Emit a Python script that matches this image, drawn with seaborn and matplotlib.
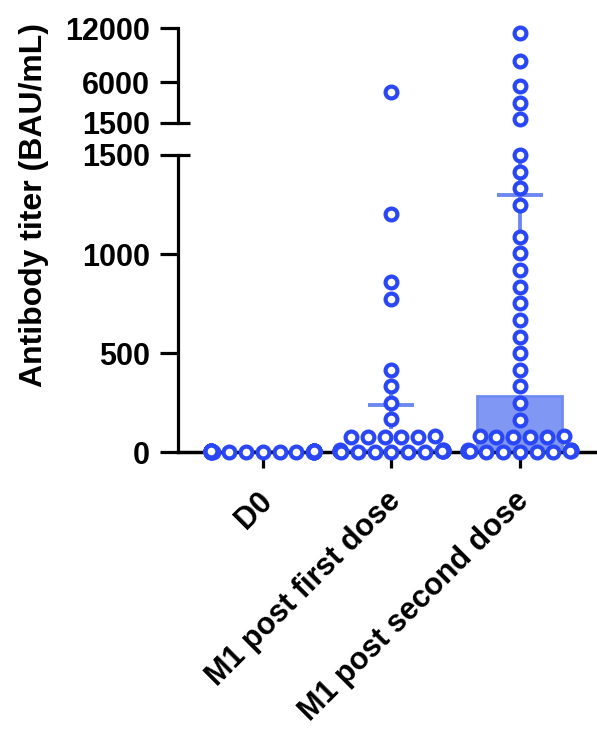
import numpy as np
import pandas as pd
import matplotlib.pyplot as plt
import matplotlib.transforms as mtransforms
from matplotlib.ticker import FixedLocator
import seaborn as sns

sns.set_style('ticks')
plt.rcParams['font.family'] = ['Liberation Sans', 'DejaVu Sans']
plt.rcParams['font.weight'] = 'bold'
for key in ['text.color', 'axes.labelcolor', 'xtick.color', 'ytick.color',
            'axes.edgecolor']:
    plt.rcParams[key] = 'black'

# ------------------------------------------------------------
# Data
# ------------------------------------------------------------
categories = ['D0', 'M1 post first dose', 'M1 post second dose']

d0_titers = [0, 0, 0, 1, 1, 1, 2, 2, 2, 3, 3, 3, 4, 4, 4, 5, 5, 5,
             6, 6, 0, 1, 2, 3, 4, 5, 6, 2, 3, 4]
first_dose_titers = [4900, 1200, 860, 775, 415, 333, 250, 165,
                     80, 78, 77, 76, 75, 74,
                     10, 9, 8, 7, 6, 5, 5, 4, 4, 3, 3, 2, 2, 1, 1, 0, 0]
second_dose_titers = [11400, 8300, 5600, 3750, 1900,
                      1500, 1416, 1332, 1248, 1087, 1003, 919, 835, 751,
                      667, 583, 499, 415, 331, 247, 163,
                      80, 79, 77, 76, 75, 74,
                      12, 10, 8, 7, 6, 5, 4, 3, 2, 1, 1, 0, 0]

# summary marks drawn with the dots
bar_values = [0, 10, 285]
mean_values = [0, 237, 1300]
sem_values = [0, 120, 235]

low_ticks = [0, 500, 1000, 1500]
high_ticks = [1500, 6000, 12000]
break_value = 1500

df = pd.DataFrame({
    'group': (['D0'] * len(d0_titers)
              + ['M1 post first dose'] * len(first_dose_titers)
              + ['M1 post second dose'] * len(second_dose_titers)),
    'titer': d0_titers + first_dose_titers + second_dose_titers,
})
df_low = df[df['titer'] <= break_value]
df_high = df[df['titer'] > break_value]

blue = '#2a47f5'
bar_face = '#8097f3'
bar_edge = '#6f8bf2'
mean_col = '#6d88f1'

W, H = 597, 731
fig = plt.figure(figsize=(W / 100, H / 100), dpi=100)
ax_top = fig.add_axes([178 / W, 1 - 123 / H, 419 / W, 95 / H])
ax_low = fig.add_axes([178 / W, 1 - 452 / H, 419 / W, 297 / H])

dot_kws = dict(order=categories, size=8.5, color='white', edgecolor=blue,
               linewidth=3.0, zorder=4, warn_thresh=1)

# ------------------------------------------------------------
# Lower panel (0 - 1500)
# ------------------------------------------------------------
sns.barplot(x=categories, y=bar_values, order=categories, color=bar_face,
            edgecolor=bar_edge, linewidth=2, width=0.66, saturation=1,
            errorbar=None, ax=ax_low, zorder=1)
ax_low.errorbar(x=range(len(categories)), y=mean_values, yerr=sem_values,
                fmt='_', color=mean_col, markersize=33, mew=2.8,
                elinewidth=2.8, capsize=0, zorder=2)
sns.swarmplot(data=df_low, x='group', y='titer', ax=ax_low, **dot_kws)

# ------------------------------------------------------------
# Upper panel (1500 - 12000)
# ------------------------------------------------------------
sns.swarmplot(data=df_high, x='group', y='titer', ax=ax_top, **dot_kws)

for ax in (ax_low, ax_top):
    for coll in ax.collections:
        coll.set_clip_on(False)
    ax.set_xlim(-0.66, 2.6)
    ax.set_xlabel('')
    ax.set_ylabel('')
    ax.spines['top'].set_visible(False)
    ax.spines['right'].set_visible(False)
    ax.spines['left'].set_linewidth(2.3)
    ax.spines['bottom'].set_linewidth(2.5)
    ax.tick_params(axis='y', which='major', length=13, width=2.3, pad=7,
                   labelsize=22)
    ax.yaxis.remove_overlapping_locs = False
    ax.yaxis.set_minor_locator(FixedLocator([break_value]))
    ax.tick_params(axis='y', which='minor', direction='in', length=8.5,
                   width=2.3)

ax_low.set_ylim(0, break_value)
ax_low.set_yticks(low_ticks)
ax_top.set_ylim(break_value, 12000)
ax_top.set_yticks(high_ticks)
ax_top.spines['bottom'].set_visible(False)
ax_top.set_xticks([])

ax_low.set_xticks(range(len(categories)))
ax_low.set_xticklabels(categories, rotation=45, ha='right', va='top',
                       rotation_mode='anchor', fontsize=22, fontweight='bold')
ax_low.tick_params(axis='x', length=11.5, width=2.3, pad=13)
shift = mtransforms.ScaledTranslation(-6 / 100, 0, fig.dpi_scale_trans)
for lab in ax_low.get_xticklabels():
    lab.set_transform(lab.get_transform() + shift)
for lab in ax_low.get_yticklabels() + ax_top.get_yticklabels():
    lab.set_fontweight('bold')

fig.text(34 / W, 1 - 205 / H, 'Antibody titer (BAU/mL)', rotation=90,
         ha='center', va='center', fontsize=23, fontweight='bold')

fig.savefig('out.png', dpi=100)
